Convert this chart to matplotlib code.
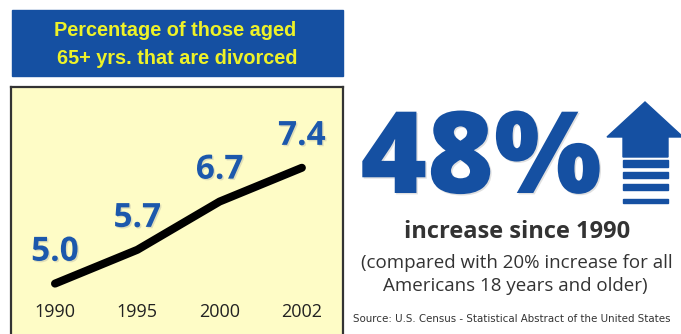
import matplotlib
matplotlib.use("Agg")
import matplotlib.pyplot as plt
import matplotlib.patheffects as pe
from matplotlib.patches import Rectangle, Polygon

# data
years = ["1990", "1995", "2000", "2002"]
pct_divorced = [5.0, 5.7, 6.7, 7.4]
title_lines = ["Percentage of those aged", "65+ yrs. that are divorced"]
headline = "48%"
sub1 = "increase since 1990"
sub2 = "(compared with 20% increase for all"
sub3 = "Americans 18 years and older)"
source = "Source: U.S. Census - Statistical Abstract of the United States"

BLUE = "#1550a2"
YELLOW = "#eef228"
LABEL_BLUE = "#1c58ac"
GRAY = "#333333"

W, H = 681, 334
fig = plt.figure(figsize=(W / 100, H / 100), dpi=100)
fig.patch.set_facecolor("white")


def fx(x):
    return x / W


def fy(y):
    return 1 - y / H


# title box
fig.patches.append(Rectangle((fx(12), fy(76)), fx(343) - fx(12), fy(10) - fy(76),
                             transform=fig.transFigure, color=BLUE, zorder=0))
fig.text(fx(175), fy(36), title_lines[0], ha="center", va="baseline", color=YELLOW,
         fontsize=14.3, fontweight="bold", family="Liberation Sans")
fig.text(fx(177), fy(64), title_lines[1], ha="center", va="baseline", color=YELLOW,
         fontsize=14.3, fontweight="bold", family="Liberation Sans")

# line chart box
ax = fig.add_axes([fx(11), fy(351), fx(343) - fx(11), fy(87) - fy(351)])
ax.set_facecolor("#fefcc6")
for s in ax.spines.values():
    s.set_color(GRAY)
    s.set_linewidth(1.6)
ax.set_xticks([])
ax.set_yticks([])
ax.set_xlim(-0.535, 3.5)
ax.set_ylim(3.603, 9.074)

xs = list(range(len(years)))
ax.plot(xs, pct_divorced, color="black", lw=5.8, solid_capstyle="round",
        solid_joinstyle="round")

shadow = [pe.SimplePatchShadow(offset=(1, -1), shadow_rgbFace="#999999", alpha=0.3),
          pe.Normal()]
for x, v in zip(xs, pct_divorced):
    ax.annotate(f"{v:.1f}", (x, v), xytext=(0, 16.5), textcoords="offset points",
                ha="center", va="baseline", fontsize=24, fontweight="bold",
                color=LABEL_BLUE, family="Open Sans", path_effects=shadow)

for x, yr in zip(xs, years):
    ax.text(x, 0.128, yr, transform=ax.get_xaxis_transform(), ha="center",
            va="baseline", fontsize=13, color="#222222", family="Open Sans")

# right side
fig.text(fx(481), fy(193), headline, ha="center", va="baseline", fontsize=82,
         fontweight="heavy", color=BLUE, family="Open Sans", path_effects=shadow)
fig.text(fx(517), fy(238), sub1, ha="center", va="baseline", fontsize=17,
         fontweight="bold", color=GRAY, family="Open Sans")
fig.text(fx(517), fy(268), sub2, ha="center", va="baseline", fontsize=13.5,
         color=GRAY, family="Open Sans")
fig.text(fx(515), fy(291), sub3, ha="center", va="baseline", fontsize=13.5,
         color=GRAY, family="Open Sans")
fig.text(fx(353), fy(322), source, ha="left", va="baseline", fontsize=7.4,
         color=GRAY, family="DejaVu Sans")

# up arrow
arr = fig.add_axes([fx(600), fy(210), fx(681) - fx(600), fy(98) - fy(210)])
arr.set_xlim(600, 681)
arr.set_ylim(210, 98)
arr.axis("off")
arr.add_patch(Polygon([(645, 102), (683, 137), (668, 137), (668, 157), (623, 157),
                       (623, 137), (607, 137)], closed=True, color=BLUE))
for top, bot in [(160, 167), (172, 178), (184, 190), (199, 203)]:
    arr.add_patch(Rectangle((623, top), 45, bot - top, color=BLUE))

fig.savefig("out.png", dpi=100)
